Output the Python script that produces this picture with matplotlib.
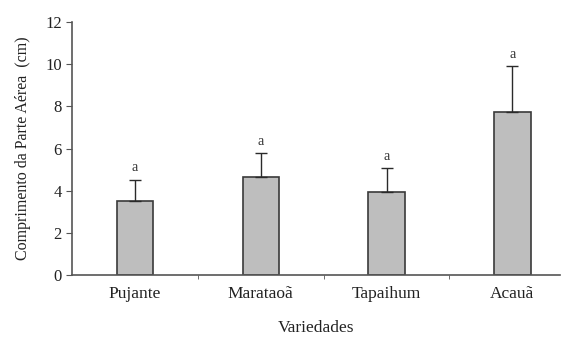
import matplotlib
matplotlib.use("Agg")
import matplotlib.pyplot as plt

categories = ["Pujante", "Marataoã", "Tapaihum", "Acauã"]
values = [3.5, 4.65, 3.92, 7.73]
errors = [1.02, 1.14, 1.15, 2.18]
letters = ["a", "a", "a", "a"]

plt.rcParams['font.family'] = ['Liberation Serif', 'DejaVu Serif']

fig = plt.figure(figsize=(5.63, 3.43), dpi=100)
ax = fig.add_axes([0.128, 0.198, 0.867, 0.738])

x = list(range(len(categories)))
ax.bar(x, values, width=0.29, color='#bebebe', edgecolor='#3a3a3a', linewidth=1.2, zorder=2)
ax.errorbar(x, values, yerr=[[0]*len(values), errors], fmt='none', ecolor='#2a2a2a',
            elinewidth=1.0, capsize=4, capthick=1.0, zorder=3)
for xi, v, e, l in zip(x, values, errors, letters):
    ax.text(xi, v + e + 0.25, l, ha='center', va='bottom', fontsize=10, color='#333333')

ax.set_xlim(-0.5, 3.38)
ax.set_ylim(0, 12)
ax.set_yticks(range(0, 13, 2))
ax.set_xticks(x)
ax.set_xticklabels(categories, fontsize=12.5, color='#222222')
ax.tick_params(axis='x', length=0, pad=8)
ax.set_xticks([0.5, 1.5, 2.5], minor=True)
ax.tick_params(axis='x', which='minor', length=3, color='#555555', direction='out')
ax.tick_params(axis='y', labelsize=12, length=4, colors='#555555', labelcolor='#222222')

for s in ['top', 'right']:
    ax.spines[s].set_visible(False)
for s in ['left', 'bottom']:
    ax.spines[s].set_color('#555555')
    ax.spines[s].set_linewidth(1.2)

ax.set_xlabel('Variedades', fontsize=12.5, color='#222222', labelpad=13)
ax.set_ylabel('Comprimento da Parte Aérea  (cm)', fontsize=11.5, color='#222222', labelpad=10)

fig.savefig('out.png', dpi=100)
